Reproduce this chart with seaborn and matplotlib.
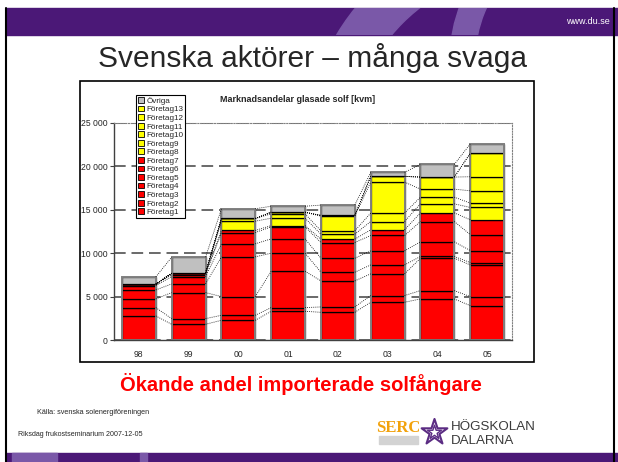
"""
Slide: Svenska aktörer - stacked market share bars (glasade solfångare, kvm).
"""

import numpy as np
import seaborn as sns
from matplotlib import pyplot as plt
from matplotlib.patches import Rectangle, Wedge, Patch


# === Data ===

years = ["98", "99", "00", "01", "02", "03", "04", "05"]

foretag1 = [2770, 1810, 2270, 3310, 3190, 4350, 4730, 3960]
foretag2 = [960, 650, 580, 420, 620, 770, 960, 1040]
foretag3 = [1000, 3000, 2150, 4190, 3000, 2500, 3730, 3650]
foretag4 = [1040, 1000, 4580, 2080, 1000, 1030, 200, 270]
foretag5 = [500, 850, 1500, 1650, 1610, 1620, 1690, 1390]
foretag6 = [150, 230, 1300, 1380, 1810, 1770, 2340, 1840]
foretag7 = [0, 150, 240, 150, 390, 650, 1000, 1700]
foretag8 = [0, 0, 1070, 850, 570, 960, 1040, 1420]
foretag9 = [0, 0, 310, 500, 390, 970, 770, 500]
foretag10 = [0, 0, 0, 190, 1690, 3570, 920, 1420]
foretag11 = [0, 0, 0, 0, 80, 660, 1390, 1620]
foretag12 = [0, 0, 0, 0, 0, 0, 0, 2690]
foretag13 = [0, 0, 0, 0, 0, 0, 0, 0]
ovriga = [850, 1850, 1120, 690, 1190, 460, 1460, 1080]

names = ["Företag%d" % i for i in range(1, 14)] + ["Övriga"]
series = [foretag1, foretag2, foretag3, foretag4, foretag5, foretag6, foretag7,
          foretag8, foretag9, foretag10, foretag11, foretag12, foretag13, ovriga]
colors = ["#FF0000"] * 7 + ["#FFFF00"] * 6 + ["#C0C0C0"]

W, H = 618, 462
purple = "#4B1877"
light_purple = "#7A58A8"


# === Plot ===

sns.set_style("white")
plt.rcParams["font.family"] = ["Liberation Sans", "DejaVu Sans"]

fig = plt.figure(figsize=(W / 100, H / 100), dpi=100)

# background slide layer in pixel coordinates
bg = fig.add_axes([0, 0, 1, 1])
bg.set_xlim(0, W)
bg.set_ylim(H, 0)
bg.axis("off")

top_band = Rectangle((6, 8), W - 6, 27, color=purple, zorder=1)
bg.add_patch(top_band)
for c, r, w in [((530, 150), 225, 45), ((600, 60), 150, 25)]:
    ring = Wedge(c, r, 0, 360, width=w, color=light_purple, zorder=2)
    bg.add_patch(ring)
    ring.set_clip_path(top_band)
bot_band = Rectangle((6, 453), W - 6, 9, color=purple, zorder=1)
bg.add_patch(bot_band)
for x0, w in [(12, 45), (140, 7)]:
    piece = Rectangle((x0, 453), w, 9, color=light_purple, zorder=2)
    bg.add_patch(piece)
bg.plot([6, 6], [8, H], color="black", lw=1.5, zorder=3)
bg.plot([614, 614], [8, H], color="black", lw=1.5, zorder=3)

bg.text(610, 22, "www.du.se", color="white", fontsize=6.5, ha="right", va="center", zorder=4)
bg.text(312, 58, "Svenska aktörer – många svaga", fontsize=21.5, ha="center", va="center")
bg.text(301, 384, "Ökande andel importerade solfångare", color="#FF0000",
        fontsize=14.5, fontweight="bold", ha="center", va="center")
bg.text(37, 413, "Källa: svenska solenergiföreningen", fontsize=5.2, va="center")
bg.text(18, 434, "Riksdag frukostseminarium 2007-12-05", fontsize=5.1, va="center")

# logos
bg.text(398, 428, "SERC", family="Liberation Serif", fontweight="bold", color="#F2A20C",
        fontsize=12, ha="center", va="center")
bg.add_patch(Rectangle((379, 436), 39, 8, color="#D3D3D3"))
bg.scatter([434], [432], marker="*", s=380, facecolor="white", edgecolor="#5B2C83", lw=1.5)
bg.scatter([434], [432], marker="*", s=110, facecolor="white", edgecolor="#5B2C83", lw=1.0)
bg.text(451, 427, "HÖGSKOLAN", fontsize=9.6, color="#3A3A3A", va="center")
bg.text(451, 441, "DALARNA", fontsize=9.6, color="#3A3A3A", va="center")

# chart frame + title
bg.add_patch(Rectangle((80, 81), 454, 281, fill=False, edgecolor="black", lw=1.2))
bg.text(298, 100, "Marknadsandelar glasade solf [kvm]", fontsize=6.5, fontweight="bold",
        ha="center", va="center")

# chart
ax = fig.add_axes([114 / W, 1 - 340 / H, 398 / W, 217 / H])
bar_w = 0.68
bottom = np.zeros(len(years))
for name, vals, col in zip(names, series, colors):
    sns.barplot(x=years, y=vals, order=years, color=col, saturation=1, errorbar=None,
                width=bar_w, bottom=bottom.copy(), edgecolor="black", linewidth=0.9, ax=ax)
    bottom += np.array(vals)
totals = bottom.copy()
sns.barplot(x=years, y=totals, order=years, fill=False, color="#808080", errorbar=None,
            width=bar_w, linewidth=1.4, ax=ax)

# series lines between bars
cum = np.zeros(len(years))
for vals in series:
    cum = cum + np.array(vals)
    for i in range(len(years) - 1):
        ax.plot([i + bar_w / 2, i + 1 - bar_w / 2], [cum[i], cum[i + 1]],
                ls=(0, (1, 1.5)), color="black", lw=0.6)

ax.set_xlim(-0.5, 7.5)
ax.set_ylim(0, 25000)
yt = np.arange(0, 25001, 5000)
ax.set_yticks(yt)
ax.set_yticklabels([f"{v:,}".replace(",", " ") for v in yt], fontsize=6.2)
ax.set_xticks(range(len(years)))
ax.set_xticklabels(years, fontsize=6.2)
ax.set_xticks(np.arange(-0.5, 8, 1), minor=True)
ax.tick_params(axis="x", which="major", length=0, pad=7)
ax.tick_params(axis="x", which="minor", length=3, direction="out", color="#404040")
ax.tick_params(axis="y", length=3, direction="out", pad=1.5, color="#404040", left=True)
ax.yaxis.grid(True, color="#505050", ls=(0, (7, 3.5)), lw=1.2)
ax.set_axisbelow(True)
ax.set_xlabel("")
ax.set_ylabel("")
for s in ["left", "bottom"]:
    ax.spines[s].set_color("#404040")
    ax.spines[s].set_linewidth(1.0)
for s in ["top", "right"]:
    ax.spines[s].set_color("#808080")
    ax.spines[s].set_linestyle((0, (1, 1.5)))
    ax.spines[s].set_linewidth(0.8)

handles = [Patch(facecolor=c, edgecolor="black", lw=0.6) for c in colors[::-1]]
leg = fig.legend(handles, names[::-1], loc="upper left",
                 bbox_to_anchor=(136 / W, 1 - 95 / H), fontsize=5.9, frameon=True,
                 fancybox=False, edgecolor="black", framealpha=1, borderpad=0.25,
                 labelspacing=0.1, handlelength=0.7, handleheight=0.7,
                 handletextpad=0.3, borderaxespad=0)
leg.get_frame().set_linewidth(0.8)

plt.savefig("out.png", dpi=100)
